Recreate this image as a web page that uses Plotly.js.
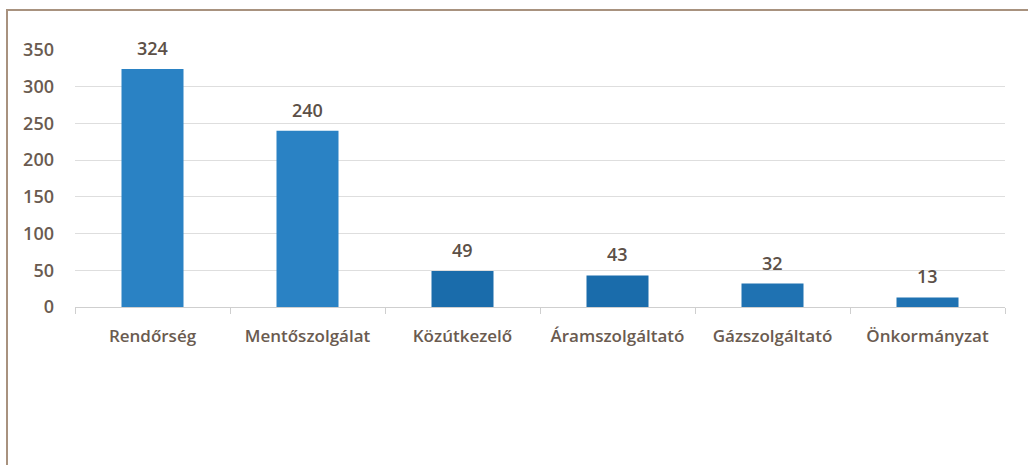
<!DOCTYPE html>
<html>
<head>
<meta charset="utf-8">
<script src="https://cdn.plot.ly/plotly-3.0.1.min.js"></script>
<style>
html,body{margin:0;padding:0;background:#fff;}
#chart{width:1028px;height:465px;}
</style>
</head>
<body>
<div id="chart"></div>
<script>
const categories = ["Rendőrség", "Mentőszolgálat", "Közútkezelő", "Áramszolgáltató", "Gázszolgáltató", "Önkormányzat"];
const values = [324, 240, 49, 43, 32, 13];
const barColors = ["#2a82c4", "#2a82c4", "#1a6cab", "#1a6cab", "#1f72b2", "#1f72b2"];
const yTicks = [0, 50, 100, 150, 200, 250, 300, 350];

const W = 1028, H = 465;
const m = {l: 75, r: 23, t: 50, b: 158};
const pw = W - m.l - m.r, ph = H - m.t - m.b;
const px = v => (v - m.l) / pw;
const py = v => 1 - (v - m.t) / ph;

const textColor = "#6a5b50";
const fontFam = "'Open Sans', sans-serif";

const trace = {
  type: "bar",
  x: categories,
  y: values,
  marker: {color: barColors},
  width: 0.4,
  hoverinfo: "none"
};

const annotations = categories.map((c, i) => ({
  x: c, y: values[i], xref: "x", yref: "y",
  text: String(values[i]), showarrow: false,
  yanchor: "bottom", yshift: 7,
  font: {family: fontFam, size: 18, color: "#5c5047", weight: 600}
}));

const layout = {
  width: W, height: H,
  margin: m,
  paper_bgcolor: "#ffffff",
  plot_bgcolor: "#ffffff",
  showlegend: false,
  xaxis: {
    type: "category",
    tickfont: {family: fontFam, size: 17, color: textColor, weight: 600},
    showgrid: false,
    showline: true, linecolor: "#cfcfcf", linewidth: 1,
    ticks: "outside", tickson: "boundaries", ticklen: 6, tickcolor: "#cfcfcf",
    ticklabelstandoff: 14,
    zeroline: false
  },
  yaxis: {
    range: [0, 350],
    tickvals: yTicks,
    tickfont: {family: fontFam, size: 18, color: textColor, weight: 600},
    showgrid: true, gridcolor: "#dedede", gridwidth: 1,
    zeroline: false, showline: false,
    ticks: "", ticklen: 0,
    ticklabelstandoff: 20
  },
  annotations: annotations,
  shapes: [
    {type: "line", xref: "paper", yref: "paper", x0: px(7), x1: px(7), y0: py(10), y1: py(470),
     line: {color: "#a8927f", width: 2}},
    {type: "line", xref: "paper", yref: "paper", x0: px(6), x1: px(1030), y0: py(10), y1: py(10),
     line: {color: "#a8927f", width: 2}}
  ]
};

Plotly.newPlot("chart", [trace], layout, {displayModeBar: false, staticPlot: true});
</script>
</body>
</html>
